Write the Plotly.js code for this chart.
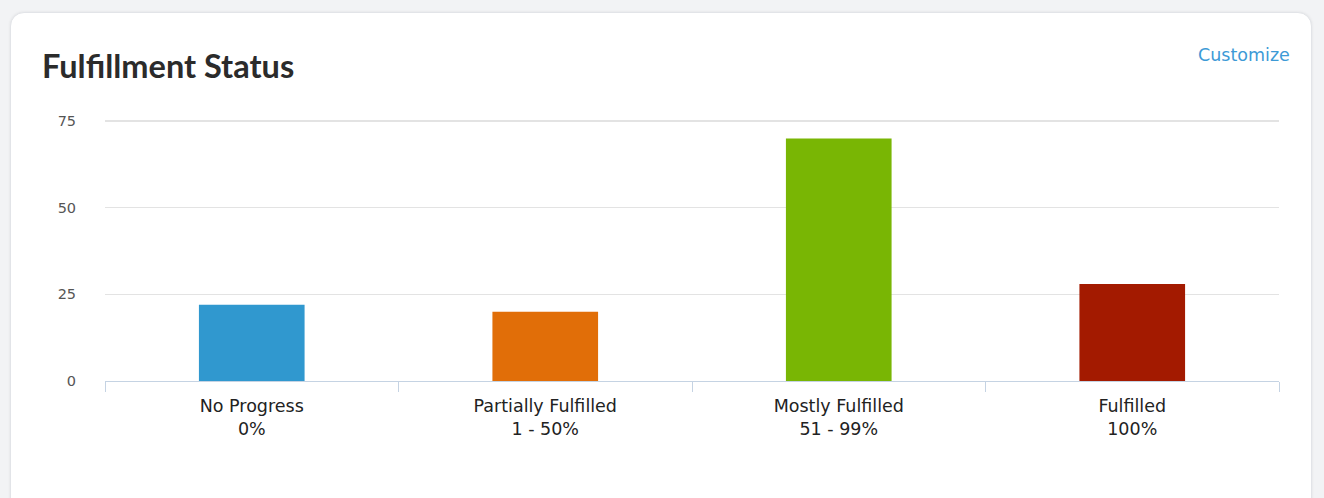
<!DOCTYPE html>
<html>
<head>
<meta charset="utf-8">
<script src="https://cdn.plot.ly/plotly-3.0.1.min.js"></script>
<style>
html,body{margin:0;padding:0;background:#f2f3f5;width:1324px;height:498px;overflow:hidden;}
#card{position:absolute;left:10px;top:12px;width:1300px;height:500px;background:#fff;border:1px solid #e2e4e8;border-radius:14px;box-shadow:0 0 3px rgba(0,0,0,0.08);}
#chart{position:absolute;left:0;top:0;width:1324px;height:498px;}
</style>
</head>
<body>
<div id="card"></div>
<div id="chart"></div>
<script>
const categories = ["No Progress<br>0%", "Partially Fulfilled<br>1 - 50%", "Mostly Fulfilled<br>51 - 99%", "Fulfilled<br>100%"];
const counts = [22, 20, 70, 28];
const barColors = ["#3098cf", "#e16e08", "#79b604", "#a31a00"];
const yTicks = [0, 25, 50, 75];

const trace = {
  type: "bar",
  x: categories,
  y: counts,
  marker: {color: barColors, line: {width: 0}},
  width: 0.36,
  hoverinfo: "x+y"
};

const layout = {
  width: 1324,
  height: 498,
  margin: {l: 105, r: 45, t: 119, b: 117},
  paper_bgcolor: "rgba(0,0,0,0)",
  plot_bgcolor: "rgba(0,0,0,0)",
  showlegend: false,
  title: {
    text: "<b>Fulfillment Status</b>",
    font: {family: "Lato", size: 32.5, color: "#2b2b2b"},
    x: 0, xref: "paper", xanchor: "left",
    y: 0.866, yref: "container", yanchor: "middle",
    pad: {l: -63}
  },
  xaxis: {
    type: "category",
    showline: true,
    linecolor: "#c5d3e3",
    linewidth: 1,
    ticks: "outside",
    tickson: "boundaries",
    ticklen: 10,
    tickcolor: "#c5d3e3",
    showgrid: false,
    ticklabelstandoff: 9,
    tickfont: {family: "DejaVu Sans", size: 17.5, color: "#222"},
    fixedrange: true
  },
  yaxis: {
    range: [0, 75.6],
    tickvals: yTicks,
    ticktext: yTicks.map(String),
    showgrid: true,
    gridcolor: "#e3e3e3",
    gridwidth: 1.5,
    zeroline: false,
    showline: false,
    ticks: "outside",
    ticklen: 25,
    tickcolor: "rgba(0,0,0,0)",
    tickfont: {family: "DejaVu Sans", size: 14.5, color: "#555"},
    fixedrange: true
  },
  annotations: [{
    text: "Customize",
    xref: "paper", yref: "paper",
    x: 1, y: 1,
    xanchor: "right", yanchor: "middle",
    xshift: 13, yshift: 64,
    showarrow: false,
    font: {family: "DejaVu Sans", size: 17.5, color: "#3d9ad6"}
  }]
};

Plotly.newPlot("chart", [trace], layout, {displayModeBar: false, staticPlot: true});
</script>
</body>
</html>
